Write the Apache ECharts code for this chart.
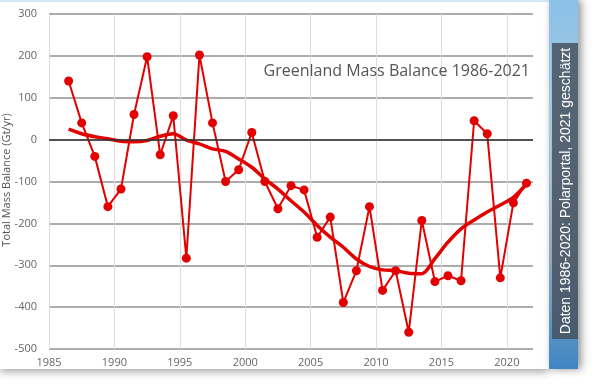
<!DOCTYPE html>
<html>
<head>
<meta charset="utf-8">
<script src="https://cdn.jsdelivr.net/npm/echarts@6/dist/echarts.min.js"></script>
<style>
html,body{margin:0;padding:0;background:#fff;}
#chart{width:593px;height:391px;}
</style>
</head>
<body>
<div id="chart"></div>
<script>
// Years (plotted at mid-year)
var years = [1986,1987,1988,1989,1990,1991,1992,1993,1994,1995,1996,1997,1998,1999,2000,2001,2002,2003,2004,2005,2006,2007,2008,2009,2010,2011,2012,2013,2014,2015,2016,2017,2018,2019,2020,2021];
// Annual total mass balance (Gt/yr)
var massBalance = [140,40,-40,-160,-118,60,198,-36,57,-283,202,40,-100,-72,17,-100,-165,-110,-120,-233,-185,-389,-313,-160,-360,-313,-460,-193,-339,-325,-337,45,14,-330,-151,-104];
// Smoothed trend (Gt/yr)
var trend = [25,14,7,2,-4,-5,-2,8,14,-1,-10,-22,-28,-46,-66,-94,-118,-146,-173,-205,-233,-257,-285,-303,-311,-313,-319,-320,-284,-245,-213,-192,-173,-156,-138,-106];
var xTicks = {min:1985, max:2022, interval:5};
var yTicks = {min:-500, max:300, interval:100};
var titleText = 'Greenland Mass Balance 1986-2021';
var yAxisName = 'Total Mass Balance (Gt/yr)';
var sideNote = 'Daten 1986-2020: Polarportal, 2021 geschätzt';

function pairs(vals){ return years.map(function(y,i){ return [y+0.5, vals[i]]; }); }

var chart = echarts.init(document.getElementById('chart'), null, {renderer:'canvas'});
var red = '#e30000';
chart.setOption({
  animation:false,
  backgroundColor:'#fff',
  grid:{left:49, right:60, top:14, bottom:42, containLabel:false},
  title:{text:titleText, right:58, top:58, textStyle:{fontFamily:'Open Sans', fontSize:16, fontWeight:'normal', color:'#555'}},
  graphic:[
    {type:'rect', z:-10, shape:{x:0,y:0,width:549,height:369}, style:{fill:'#fff', shadowBlur:8, shadowColor:'rgba(0,0,0,0.35)', shadowOffsetY:3}},
    {type:'rect', z:-9, shape:{x:0,y:0,width:549,height:2}, style:{fill:'#d6e8f5'}},
    {type:'rect', z:-8, shape:{x:549,y:0,width:29,height:369},
      style:{shadowBlur:8, shadowColor:'rgba(0,0,0,0.45)', shadowOffsetX:3,
        fill:new echarts.graphic.LinearGradient(0,0,0,1,[
        {offset:0,color:'#8cc1e8'},{offset:0.35,color:'#a9c9e0'},{offset:0.7,color:'#8fa9bf'},{offset:1,color:'#3f86c4'}])}},
    {type:'rect', z:-7, shape:{x:552,y:43,width:26,height:296}, style:{fill:'rgba(70,82,95,0.85)'}},
    {type:'text', z:10, x:566, y:191, rotation:Math.PI/2,
      style:{text:sideNote, fill:'#fff', font:'14px "Liberation Sans"', align:'center', verticalAlign:'middle'}},
    {type:'text', z:10, x:7, y:180, rotation:Math.PI/2,
      style:{text:yAxisName, fill:'#555', font:'11px "Open Sans"', align:'center', verticalAlign:'middle'}}
  ],
  xAxis:{type:'value', min:xTicks.min, max:xTicks.max, interval:xTicks.interval,
    axisLine:{show:false}, axisTick:{show:false},
    axisLabel:{showMaxLabel:false, color:'#666', fontSize:11, fontFamily:'Open Sans', margin:8, formatter:function(v){return String(v);}},
    splitLine:{show:true, showMaxLine:false, lineStyle:{color:'#dcdcdc', width:1}}},
  yAxis:{type:'value', min:yTicks.min, max:yTicks.max, interval:yTicks.interval,
    axisLine:{show:false}, axisTick:{show:false},
    axisLabel:{color:'#666', fontSize:11, fontFamily:'Open Sans', margin:12},
    splitLine:{show:true, lineStyle:{color:'#909090', width:1.5}}},
  series:[
    {type:'line', data:pairs(massBalance), symbol:'circle', symbolSize:9,
      lineStyle:{color:red, width:2}, itemStyle:{color:red}, z:3,
      markLine:{silent:true, symbol:'none', label:{show:false}, lineStyle:{color:'#333', width:1.5, type:'solid'}, data:[{yAxis:0}]}},
    {type:'line', data:pairs(trend), symbol:'none', smooth:0.3,
      lineStyle:{color:red, width:3.5}, z:4}
  ]
});
</script>
</body>
</html>
